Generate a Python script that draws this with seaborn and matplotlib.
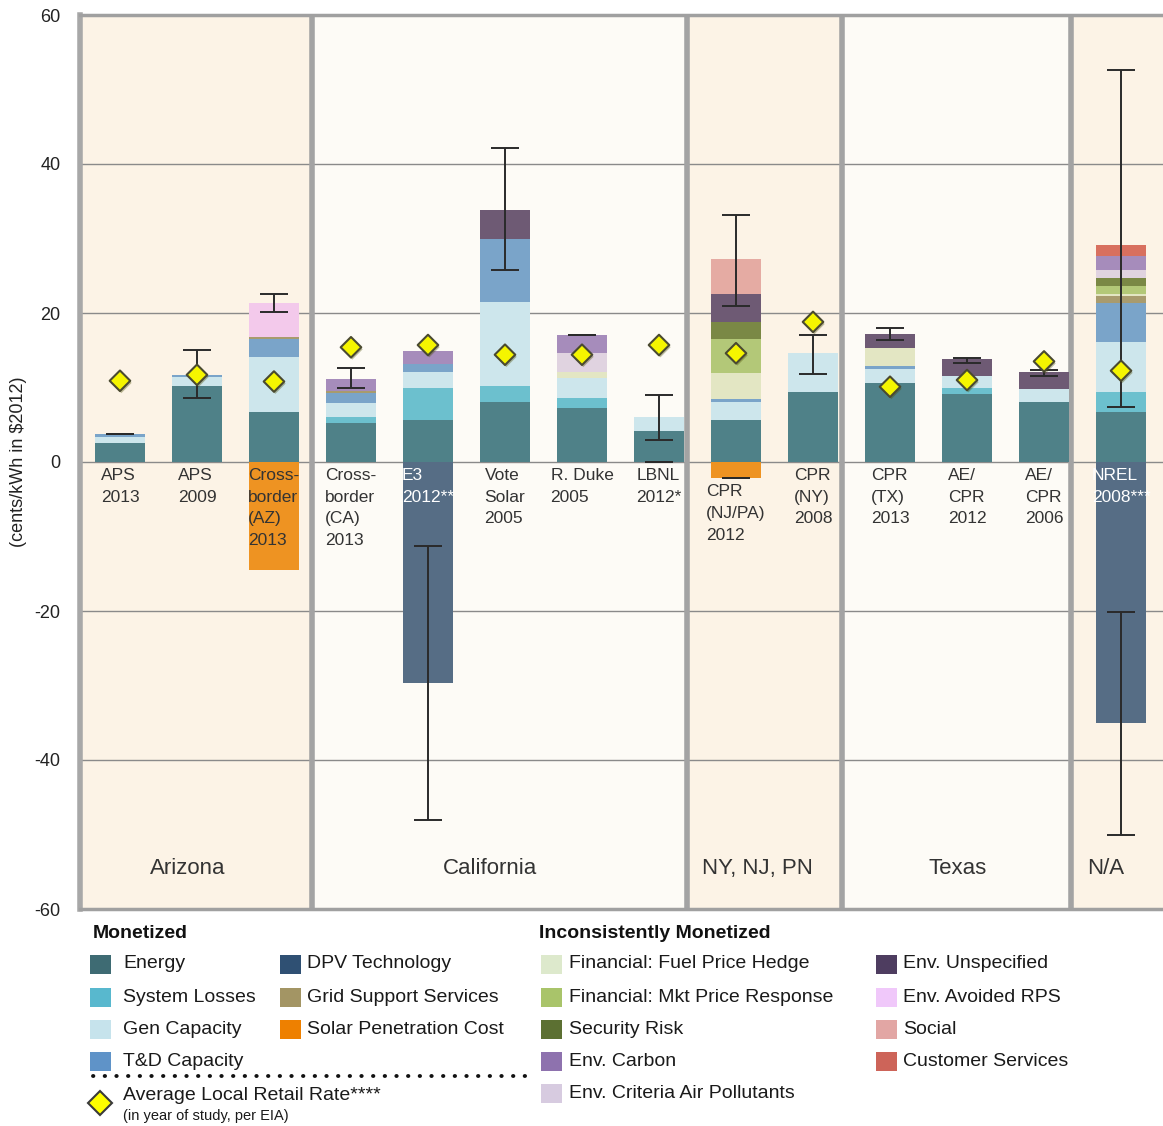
import numpy as np
import pandas as pd
import matplotlib
matplotlib.use("Agg")
import matplotlib.pyplot as plt
import matplotlib.patheffects as pe
from matplotlib.patches import Rectangle
from matplotlib.lines import Line2D
import seaborn as sns

# ---------------- data ----------------
studies = ["APS\n2013", "APS\n2009", "Cross-\nborder\n(AZ)\n2013", "Cross-\nborder\n(CA)\n2013",
           "E3\n2012**", "Vote\nSolar\n2005", "R. Duke\n2005", "LBNL\n2012*",
           "CPR\n(NJ/PA)\n2012", "CPR\n(NY)\n2008", "CPR\n(TX)\n2013", "AE/\nCPR\n2012",
           "AE/\nCPR\n2006", "NREL\n2008***"]
regions = ["Arizona", "California", "NY, NJ, PN", "Texas", "N/A"]
region_sizes = [3, 5, 2, 3, 1]

energy            = [2.5, 10.2, 6.75, 5.3, 5.6, 8.1, 7.2, 4.1, 5.6, 9.4, 10.55, 9.1, 8.1, 6.75]
system_losses     = [0, 0, 0, 0.7, 4.4, 2.15, 1.4, 0, 0, 0, 0, 0.9, 0, 2.6]
gen_capacity      = [0.8, 1.25, 7.3, 1.9, 2.1, 11.25, 2.7, 1.9, 2.5, 5.2, 1.9, 1.6, 1.7, 6.8]
td_capacity       = [0.4, 0.25, 2.5, 1.3, 1.05, 8.5, 0, 0, 0.3, 0, 0.45, 0, 0, 5.25]
grid_support      = [0, 0, 0.25, 0.3, 0, 0, 0, 0, 0, 0, 0, 0, 0, 0.9]
fuel_hedge        = [0, 0, 0, 0, 0, 0, 0.8, 0, 3.5, 0, 2.45, 0, 0, 0.3]
mkt_price         = [0, 0, 0, 0, 0, 0, 0, 0, 4.6, 0, 0, 0, 0, 1.0]
security_risk     = [0, 0, 0, 0, 0, 0, 0, 0, 2.3, 0, 0, 0, 0, 1.05]
env_criteria      = [0, 0, 0, 0, 0, 0, 2.5, 0, 0, 0, 0, 0, 0, 1.15]
env_carbon        = [0, 0, 0, 1.6, 1.75, 0, 2.4, 0, 0, 0, 0, 0, 0, 1.9]
env_unspecified   = [0, 0, 0, 0, 0, 3.8, 0, 0, 3.75, 0, 1.85, 2.2, 2.3, 0]
env_avoided_rps   = [0, 0, 4.6, 0, 0, 0, 0, 0, 0, 0, 0, 0, 0, 0]
social            = [0, 0, 0, 0, 0, 0, 0, 0, 4.65, 0, 0, 0, 0, 0]
customer_services = [0, 0, 0, 0, 0, 0, 0, 0, 0, 0, 0, 0, 0, 1.4]
dpv_technology    = [0, 0, 0, 0, -29.7, 0, 0, 0, 0, 0, 0, 0, 0, -35.0]
solar_penetration = [0, 0, -14.5, 0, 0, 0, 0, 0, -2.2, 0, 0, 0, 0, 0]

retail_rate = [10.9, 11.7, 10.8, 15.4, 15.7, 14.4, 14.4, 15.7, 14.6, 18.8, 10.1, 11.0, 13.5, 12.25]

err_pos_low  = [3.7, 8.6, 20.1, 10.0, np.nan, 25.8, 17.0, 2.95, 21.0, 11.85, 16.4, 13.25, 11.6, 7.4]
err_pos_high = [3.7, 15.1, 22.5, 12.6, np.nan, 42.1, 17.0, 9.0, 33.1, 17.0, 17.95, 14.0, 12.3, 52.6]
err_neg_low  = [np.nan, np.nan, np.nan, np.nan, -48.1, np.nan, np.nan, 0.0, -2.2, np.nan, np.nan, np.nan, np.nan, -50.1]
err_neg_high = [np.nan, np.nan, np.nan, np.nan, -11.3, np.nan, np.nan, 0.0, -2.2, np.nan, np.nan, np.nan, np.nan, -20.2]

positive_layers = ["Energy", "System Losses", "Gen Capacity", "T&D Capacity", "Grid Support Services",
                   "Financial: Fuel Price Hedge", "Financial: Mkt Price Response", "Security Risk",
                   "Env. Criteria Air Pollutants", "Env. Carbon", "Env. Unspecified",
                   "Env. Avoided RPS", "Social", "Customer Services"]
positive_values = [energy, system_losses, gen_capacity, td_capacity, grid_support, fuel_hedge,
                   mkt_price, security_risk, env_criteria, env_carbon, env_unspecified,
                   env_avoided_rps, social, customer_services]

monetized_col1 = ["Energy", "System Losses", "Gen Capacity", "T&D Capacity"]
monetized_col2 = ["DPV Technology", "Grid Support Services", "Solar Penetration Cost"]
inconsistent_col1 = ["Financial: Fuel Price Hedge", "Financial: Mkt Price Response", "Security Risk",
                     "Env. Carbon", "Env. Criteria Air Pollutants"]
inconsistent_col2 = ["Env. Unspecified", "Env. Avoided RPS", "Social", "Customer Services"]

# ---------------- styles ----------------
bar_colors = {
    "Energy": "#4F8188", "System Losses": "#6CC0CE", "Gen Capacity": "#CDE6EC",
    "T&D Capacity": "#7AA4C9", "DPV Technology": "#566D85", "Grid Support Services": "#A89B6E",
    "Solar Penetration Cost": "#EE9322", "Financial: Fuel Price Hedge": "#E3E6C3",
    "Financial: Mkt Price Response": "#B3C878", "Security Risk": "#7A8845",
    "Env. Carbon": "#A68CBB", "Env. Criteria Air Pollutants": "#E0D3E0",
    "Env. Unspecified": "#6E5A74", "Env. Avoided RPS": "#F3C9EB", "Social": "#E5ABA3",
    "Customer Services": "#D8705F",
}
legend_colors = {
    "Energy": "#3E6B73", "System Losses": "#58B8CE", "Gen Capacity": "#C6E3EC",
    "T&D Capacity": "#5F93C8", "DPV Technology": "#2F5073", "Grid Support Services": "#A39564",
    "Solar Penetration Cost": "#EE8000", "Financial: Fuel Price Hedge": "#DDE9CC",
    "Financial: Mkt Price Response": "#A9C46A", "Security Risk": "#5C7032",
    "Env. Carbon": "#8E72AE", "Env. Criteria Air Pollutants": "#D7CBE0",
    "Env. Unspecified": "#4E3D60", "Env. Avoided RPS": "#F0C8FA", "Social": "#E2A6A4",
    "Customer Services": "#CD6459",
}

sns.set_style("white")
plt.rcParams["font.family"] = ["Liberation Sans", "DejaVu Sans"]

W, H = 1163, 1126
fig = plt.figure(figsize=(W / 100, H / 100), dpi=100)
fx = lambda x: x / W
fy = lambda y: 1 - y / H
ax = fig.add_axes([fx(80), fy(909), fx(1163) - fx(80), fy(15) - fy(909)])

n = len(studies)
pos = np.arange(n)
xmin, xmax = -0.519, 13.545

# region shading
dividers = [2.49, 7.37, 9.38, 12.35]
edges = [xmin] + dividers + [xmax]
region_bg = ["#FCF3E6", "#FDFBF6", "#FCF3E6", "#FDFBF6", "#FCF3E6"]
region_label_x = [0.88, 4.81, 8.28, 10.88, 12.80]
for i, name in enumerate(regions):
    ax.axvspan(edges[i], edges[i + 1], color=region_bg[i], zorder=0, lw=0)
    ax.text(region_label_x[i], -54.5, name, ha="center", va="center",
            fontsize=16, color="#333333", zorder=3)
for d in dividers:
    ax.axvline(d, color="#A3A3A3", lw=4, zorder=1.5)

# stacked positive bars (draw cumulative tops, largest first)
cum = np.cumsum(np.array(positive_values, dtype=float), axis=0)
seg = np.array(positive_values, dtype=float)
for k in range(len(positive_layers) - 1, -1, -1):
    heights = np.where(seg[k] > 0, cum[k], np.nan)
    df = pd.DataFrame({"study": studies, "value": heights})
    sns.barplot(data=df, x="study", y="value", order=studies, color=bar_colors[positive_layers[k]],
                saturation=1, width=0.66, errorbar=None, linewidth=0, ax=ax, zorder=2)

# negative bars
for name, vals in [("DPV Technology", dpv_technology), ("Solar Penetration Cost", solar_penetration)]:
    v = np.array(vals, dtype=float)
    df = pd.DataFrame({"study": studies, "value": np.where(v < 0, v, np.nan)})
    sns.barplot(data=df, x="study", y="value", order=studies, color=bar_colors[name],
                saturation=1, width=0.66, errorbar=None, linewidth=0, ax=ax, zorder=2)

# error bars
for lo, hi in [(err_pos_low, err_pos_high), (err_neg_low, err_neg_high)]:
    lo = np.array(lo, dtype=float); hi = np.array(hi, dtype=float)
    m = ~np.isnan(lo)
    mid = (lo[m] + hi[m]) / 2
    ax.errorbar(pos[m], mid, yerr=[mid - lo[m], hi[m] - mid], fmt="none", ecolor="#2A2A2A",
                elinewidth=1.4, capsize=10, capthick=1.4, zorder=5)

# retail rate diamonds
sns.scatterplot(x=pos, y=retail_rate, marker="D", s=110, color="#F5F500", edgecolor="#4A4A30",
                linewidth=1.5, zorder=6, ax=ax, legend=False)
ax.collections[-1].set_path_effects([pe.SimplePatchShadow(offset=(1, -1.5), alpha=0.35), pe.Normal()])

# study labels
for i, lab in enumerate(studies):
    dark_bg = dpv_technology[i] < 0
    y0 = solar_penetration[i] - 0.8 if -5 < solar_penetration[i] < 0 else -0.8
    ax.text(i, y0, lab, ha="center", va="top", multialignment="left", fontsize=12.5,
            color="white" if dark_bg else "#333333", zorder=4, linespacing=1.55)

# axes styling
ax.set_xlim(xmin, xmax)
ax.set_ylim(-60, 60)
ax.set_xticks([])
ax.set_xlabel("")
ax.set_ylabel("")
ax.set_yticks(np.arange(-60, 61, 20))
ax.set_yticklabels([str(v) for v in range(-60, 61, 20)])
ax.tick_params(axis="y", length=5, color="#888888", width=1, pad=9, labelsize=13, labelcolor="#222222")
ax.yaxis.grid(True, color="#8A8A8A", lw=1)
ax.set_axisbelow(True)
ax.spines["right"].set_visible(False)
ax.spines["left"].set_color("#A8A8A8"); ax.spines["left"].set_linewidth(4)
ax.spines["top"].set_color("#A0A0A0"); ax.spines["top"].set_linewidth(2.5)
ax.spines["bottom"].set_color("#A0A0A0"); ax.spines["bottom"].set_linewidth(2.5)

fig.text(fx(19), fy(462), "(cents/kWh in $2012)", rotation=90, ha="center", va="center",
         fontsize=13, color="#222222")

# ---------------- legend ----------------
rows = [964, 997, 1029, 1061, 1093]
def swatch(x, y, color):
    fig.add_artist(Rectangle((fx(x), fy(y + 9.5)), 21 / W, 19 / H, transform=fig.transFigure,
                             facecolor=color, edgecolor="none"))

def column(labels, sx, tx):
    for r, lab in zip(rows, labels):
        swatch(sx, r, legend_colors[lab])
        fig.text(fx(tx), fy(r), lab, ha="left", va="center", fontsize=14, color="#1A1A1A")

fig.text(fx(93), fy(934), "Monetized", ha="left", va="center", fontsize=14, fontweight="bold", color="#111111")
fig.text(fx(539), fy(934), "Inconsistently Monetized", ha="left", va="center", fontsize=14,
         fontweight="bold", color="#111111")
column(monetized_col1, 90, 123)
column(monetized_col2, 280, 307)
column(inconsistent_col1, 541, 569)
column(inconsistent_col2, 876, 903)

fig.add_artist(Line2D([fx(93), fx(528)], [fy(1076), fy(1076)], transform=fig.transFigure,
                      color="#111111", lw=2.8, linestyle=(0, (0.1, 2.9)), dash_capstyle="round"))
fig.add_artist(Line2D([fx(100)], [fy(1103)], transform=fig.transFigure, marker="D", markersize=12.5,
                      markerfacecolor="#FFFF00", markeredgecolor="#3A3A3A", markeredgewidth=1.5, linestyle="none"))
fig.text(fx(123), fy(1096), "Average Local Retail Rate****", ha="left", va="center", fontsize=14, color="#1A1A1A")
fig.text(fx(123), fy(1116), "(in year of study, per EIA)", ha="left", va="center", fontsize=10.5, color="#1A1A1A")

fig.savefig("out.png", dpi=100, facecolor="white")
